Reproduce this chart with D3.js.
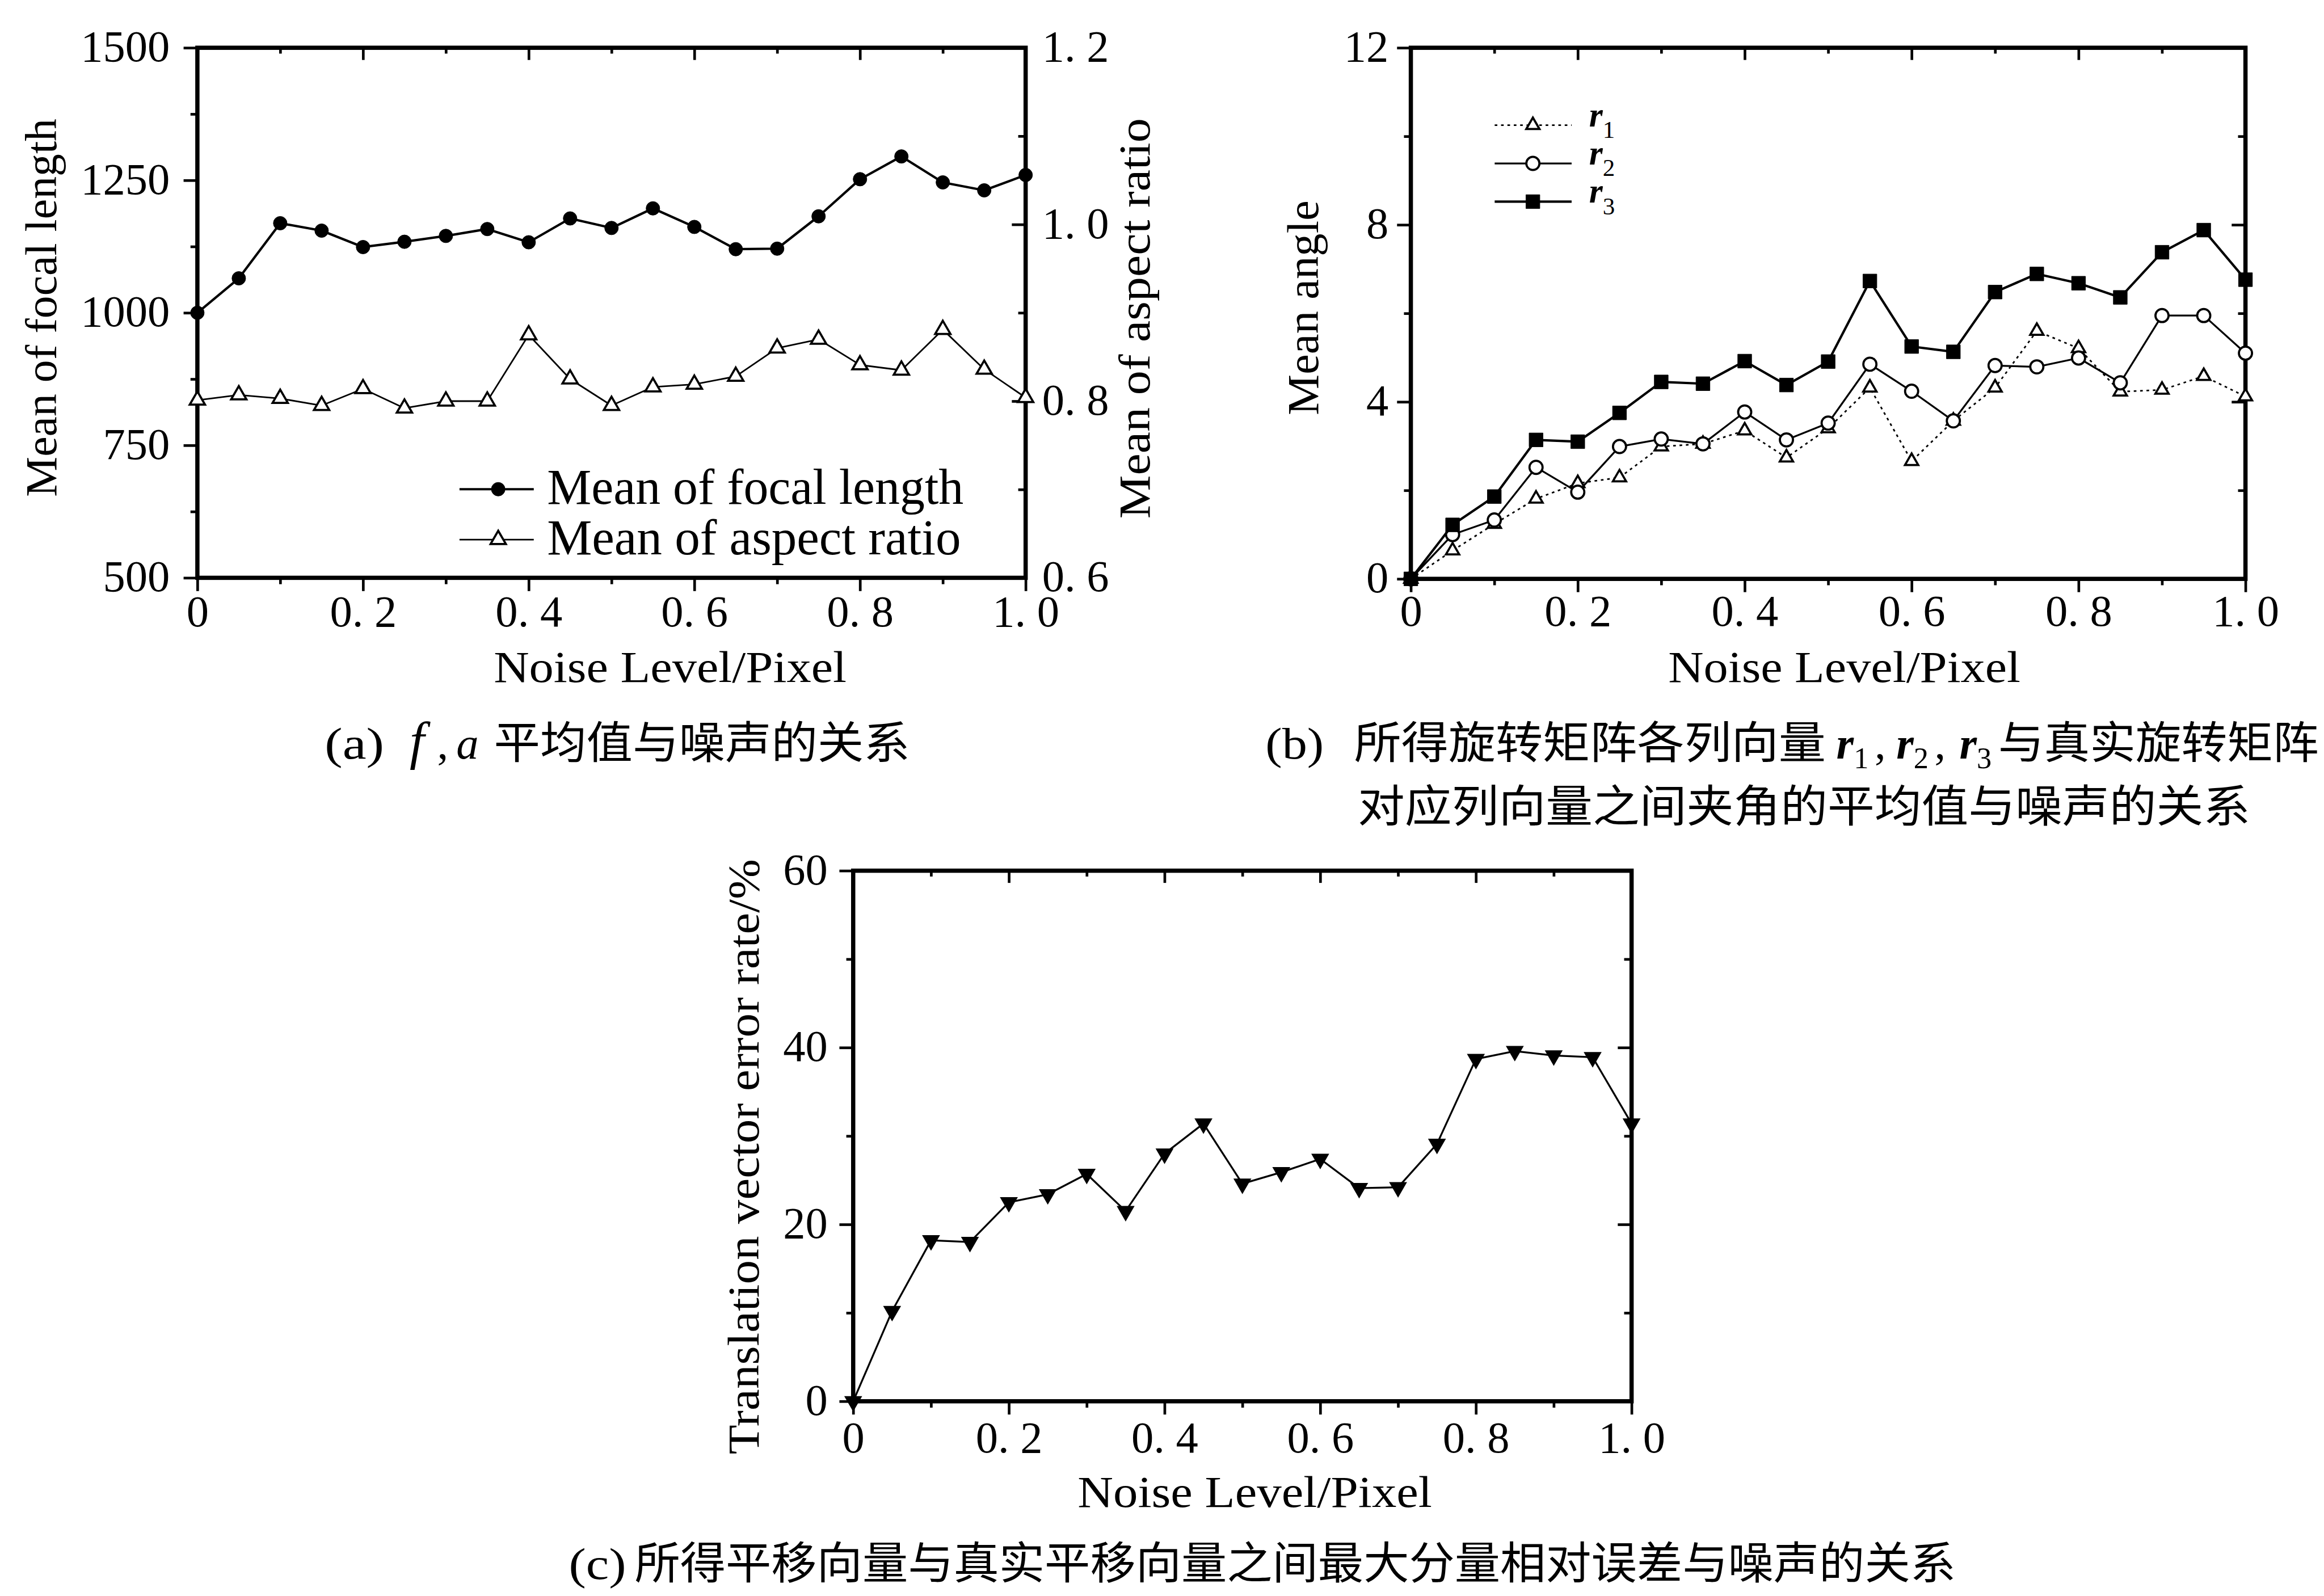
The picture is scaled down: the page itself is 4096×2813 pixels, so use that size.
<!DOCTYPE html>
<html>
<head>
<meta charset="utf-8">
<script src="https://cdn.jsdelivr.net/npm/d3@7"></script>
<style>
  body { margin: 0; background: #fff; }
  svg { display: block; }
</style>
</head>
<body>
<script>
// data
const noiseLevels = [0, 0.05, 0.1, 0.15, 0.2, 0.25, 0.3, 0.35, 0.4, 0.45, 0.5, 0.55, 0.6, 0.65, 0.7, 0.75, 0.8, 0.85, 0.9, 0.95, 1.0];
const focalLength = [1000, 1065, 1169, 1155, 1124, 1134, 1145, 1158, 1133, 1178, 1160, 1197, 1162, 1120, 1121, 1182, 1252, 1295, 1246, 1231, 1260];
const aspectRatio = [0.801, 0.807, 0.803, 0.795, 0.814, 0.792, 0.800, 0.800, 0.875, 0.825, 0.795, 0.816, 0.819, 0.828, 0.860, 0.870, 0.841, 0.835, 0.881, 0.836, 0.804];
const angleR1 = [0, 0.64, 1.24, 1.81, 2.16, 2.29, 2.99, 3.05, 3.35, 2.74, 3.40, 4.32, 2.66, 3.57, 4.32, 5.60, 5.21, 4.23, 4.27, 4.58, 4.12];
const angleR2 = [0, 1.00, 1.33, 2.52, 1.96, 2.99, 3.16, 3.05, 3.77, 3.14, 3.52, 4.85, 4.24, 3.57, 4.82, 4.79, 4.99, 4.43, 5.95, 5.95, 5.10];
const angleR3 = [0, 1.22, 1.86, 3.14, 3.10, 3.75, 4.45, 4.41, 4.92, 4.38, 4.91, 6.73, 5.25, 5.13, 6.48, 6.89, 6.68, 6.36, 7.38, 7.88, 6.76];
const translationErr = [0, 10.2, 18.2, 18.0, 22.5, 23.4, 25.7, 21.5, 28.0, 31.4, 24.6, 25.9, 27.4, 24.1, 24.2, 29.1, 38.7, 39.6, 39.1, 38.9, 31.4];

const xMajor = [0, 0.2, 0.4, 0.6, 0.8, 1.0];
const xMinor = [0.1, 0.3, 0.5, 0.7, 0.9];
const focalTicks = [500, 750, 1000, 1250, 1500];
const focalMinor = [625, 875, 1125, 1375];
const aspectTicks = [0.6, 0.8, 1.0, 1.2];
const aspectMinor = [0.7, 0.9, 1.1];
const angleTicks = [0, 4, 8, 12];
const angleMinor = [2, 6, 10];
const errTicks = [0, 20, 40, 60];
const errMinor = [10, 30, 50];

const legendA = ["Mean of focal length", "Mean of aspect ratio"];
const legendB = ["1", "2", "3"];

const serif = "'Liberation Serif','Times New Roman',serif";
const cjk = "'Noto Sans CJK SC','Noto Sans CJK JP',sans-serif";
const FS = 84;

const svg = d3.select("body").append("svg")
    .attr("width", 4096).attr("height", 2813)
    .attr("viewBox", "0 0 4380 3008");
svg.append("rect").attr("width", 4380).attr("height", 3008).attr("fill", "#fff");

const fmtDot = d => d === 0 ? "0" : d.toFixed(1).replace(".", ". ");

function styleAxis(g) {
  g.select(".domain").remove();
  g.attr("font-family", serif).attr("font-size", FS);
  g.selectAll(".tick line").attr("stroke", "#000").attr("stroke-width", 5);
  g.selectAll("text").attr("fill", "#000");
}

// frame + ticks of one panel, returns scales
function panel(p) {
  const x = d3.scaleLinear().domain([0, 1]).range([p.left, p.right]);
  const y = d3.scaleLinear().domain(p.yDomain).range([p.bottom, p.top]);
  const g = svg.append("g");

  g.append("rect")
    .attr("x", p.left).attr("y", p.top)
    .attr("width", p.right - p.left).attr("height", p.bottom - p.top)
    .attr("fill", "none").attr("stroke", "#000").attr("stroke-width", 8);

  // bottom
  g.append("g").attr("transform", `translate(0,${p.bottom})`)
    .call(d3.axisBottom(x).tickValues(xMajor).tickSize(25).tickFormat(fmtDot))
    .call(styleAxis)
    .call(a => a.selectAll("text").attr("y", p.xLabelY - p.bottom).attr("dy", null));
  g.append("g").attr("transform", `translate(0,${p.bottom})`)
    .call(d3.axisBottom(x).tickValues(xMinor).tickSize(12).tickFormat(""))
    .call(styleAxis);
  // top (inward)
  g.append("g").attr("transform", `translate(0,${p.top})`)
    .call(d3.axisTop(x).tickValues(xMajor).tickSize(-23).tickFormat(""))
    .call(styleAxis);
  g.append("g").attr("transform", `translate(0,${p.top})`)
    .call(d3.axisTop(x).tickValues(xMinor).tickSize(-11).tickFormat(""))
    .call(styleAxis);
  // left
  g.append("g").attr("transform", `translate(${p.left},0)`)
    .call(d3.axisLeft(y).tickValues(p.yMajor).tickSize(26).tickPadding(p.pad).tickFormat(d3.format("d")))
    .call(styleAxis)
    .call(a => a.selectAll("text").attr("dy", "0.3em"));
  g.append("g").attr("transform", `translate(${p.left},0)`)
    .call(d3.axisLeft(y).tickValues(p.yMinor).tickSize(13).tickFormat(""))
    .call(styleAxis);

  // right (inward)
  const yr = p.yRight ? d3.scaleLinear().domain(p.yRight.domain).range([p.bottom, p.top]) : y;
  const rMajor = p.yRight ? p.yRight.major : p.yMajor;
  const rMinor = p.yRight ? p.yRight.minor : p.yMinor;
  g.append("g").attr("transform", `translate(${p.right},0)`)
    .call(d3.axisRight(yr).tickValues(rMajor).tickSize(-26).tickPadding(31)
      .tickFormat(p.yRight ? fmtDot : ""))
    .call(styleAxis)
    .call(a => a.selectAll("text").attr("dy", "0.3em"));
  g.append("g").attr("transform", `translate(${p.right},0)`)
    .call(d3.axisRight(yr).tickValues(rMinor).tickSize(-14).tickFormat(""))
    .call(styleAxis);

  return { x, y, yr, g };
}

function series(g, x, y, values, o) {
  const line = d3.line().x((d, i) => x(noiseLevels[i])).y(d => y(d));
  g.append("path").datum(values).attr("d", line)
    .attr("fill", "none").attr("stroke", "#000").attr("stroke-width", o.width)
    .attr("stroke-dasharray", o.dash || null).attr("stroke-linejoin", "round");
  g.selectAll(null).data(values).join("path")
    .attr("transform", (d, i) => `translate(${x(noiseLevels[i])},${y(d)})` + (o.rot ? ` rotate(${o.rot})` : ""))
    .attr("d", d3.symbol().type(o.type).size(o.size)())
    .attr("fill", o.fill).attr("stroke", "#000").attr("stroke-width", o.sw);
}

function legendRow(g, x1, x2, xm, yy, o) {
  g.append("line").attr("x1", x1).attr("x2", x2).attr("y1", yy).attr("y2", yy)
    .attr("stroke", "#000").attr("stroke-width", o.width).attr("stroke-dasharray", o.dash || null);
  g.append("path").attr("transform", `translate(${xm},${yy})`)
    .attr("d", d3.symbol().type(o.type).size(o.size)())
    .attr("fill", o.fill).attr("stroke", "#000").attr("stroke-width", o.sw);
}

function text(x, y, str, o = {}) {
  const t = svg.append("text").attr("x", x).attr("y", y)
    .attr("font-family", o.font || serif).attr("font-size", o.size || FS)
    .attr("fill", "#000").text(str);
  if (o.anchor) t.attr("text-anchor", o.anchor);
  if (o.style) t.attr("font-style", o.style);
  if (o.weight) t.attr("font-weight", o.weight);
  if (o.len) t.attr("textLength", o.len).attr("lengthAdjust", "spacingAndGlyphs");
  if (o.rot) t.attr("transform", `rotate(${o.rot},${x},${y})`);
  return t;
}

// r with a subscript index, one text element
function rLabel(x, y, sub, size, subSize, drop) {
  const t = text(x, y, "", { size });
  t.append("tspan").attr("font-style", "italic").attr("font-weight", "bold").text("r");
  t.append("tspan").attr("font-size", subSize).attr("dy", drop).text(sub);
  return t;
}

const focalStyle = { width: 4.5, type: d3.symbolCircle, size: 520, fill: "#000", sw: 1 };
const aspectStyle = { width: 3, type: d3.symbolTriangle, size: 360, fill: "#fff", sw: 4 };
const r1Style = { width: 3, dash: "5,7", type: d3.symbolTriangle, size: 270, fill: "#fff", sw: 4 };
const r2Style = { width: 3.5, type: d3.symbolCircle, size: 480, fill: "#fff", sw: 4 };
const r3Style = { width: 4.5, type: d3.symbolSquare, size: 680, fill: "#000", sw: 1 };
const errStyle = { width: 3.5, type: d3.symbolTriangle, size: 400, fill: "#000", sw: 2, rot: 180 };

// ---------- (a)
const A = panel({ left: 372, right: 1933, top: 90, bottom: 1089, yDomain: [500, 1500],
  yMajor: focalTicks, yMinor: focalMinor, pad: 26, xLabelY: 1181,
  yRight: { domain: [0.6, 1.2], major: aspectTicks, minor: aspectMinor } });
series(A.g, A.x, A.yr, aspectRatio, aspectStyle);
series(A.g, A.x, A.y, focalLength, focalStyle);
legendRow(A.g, 866, 1006, 939, 922, focalStyle);
legendRow(A.g, 866, 1006, 939, 1017, aspectStyle);
text(1031, 950, legendA[0], { size: 94, len: 785 });
text(1031, 1045, legendA[1], { size: 94, len: 780 });
text(106, 580, "Mean of focal length", { anchor: "middle", rot: -90, len: 713 });
text(2167, 600, "Mean of aspect ratio", { anchor: "middle", rot: -90, len: 755 });
text(1263, 1285, "Noise Level/Pixel", { anchor: "middle", len: 665 });

// ---------- (b)
const B = panel({ left: 2659, right: 4232, top: 90, bottom: 1091, yDomain: [0, 12],
  yMajor: angleTicks, yMinor: angleMinor, pad: 16, xLabelY: 1179 });
series(B.g, B.x, B.y, angleR1, r1Style);
series(B.g, B.x, B.y, angleR2, r2Style);
series(B.g, B.x, B.y, angleR3, r3Style);
[r1Style, r2Style, r3Style].forEach((s, i) => {
  const yy = 236 + i * 72;
  legendRow(B.g, 2817, 2962, 2889, yy, s);
  rLabel(2995, yy + 2, legendB[i], 66, 46, 22);
});
text(2484, 580, "Mean angle", { anchor: "middle", rot: -90, len: 405 });
text(3476, 1285, "Noise Level/Pixel", { anchor: "middle", len: 664 });

// ---------- (c)
const C = panel({ left: 1608, right: 3075, top: 1641, bottom: 2641, yDomain: [0, 60],
  yMajor: errTicks, yMinor: errMinor, pad: 22, xLabelY: 2738 });
series(C.g, C.x, C.y, translationErr, errStyle);
text(1430, 2180, "Translation vector error rate/%", { anchor: "middle", rot: -90, len: 1122 });
text(2365, 2840, "Noise Level/Pixel", { anchor: "middle", len: 668 });

// ---------- captions
text(612, 1430, "(a)", { len: 112 });
text(772, 1430, "f", { style: "italic", size: 100 });
text(824, 1430, ",");
text(860, 1430, "a", { style: "italic" });
text(931, 1430, "平均值与噪声的关系", { font: cjk, len: 784 });

text(2385, 1430, "(b)", { len: 110 });
text(2552, 1430, "所得旋转矩阵各列向量", { font: cjk, len: 889 });
[[3461, "1", true], [3574, "2", true], [3693, "3", false]].forEach(([rx, sub, comma]) => {
  rLabel(rx, 1430, sub, FS, 56, 18);
  if (comma) text(rx + 72, 1430, ",");
});
text(3766, 1430, "与真实旋转矩阵", { font: cjk, len: 604 });
text(2559, 1549, "对应列向量之间夹角的平均值与噪声的关系", { font: cjk, len: 1682 });

text(1072, 2976, "(c)", { len: 108 });
text(1196, 2976, "所得平移向量与真实平移向量之间最大分量相对误差与噪声的关系", { font: cjk, len: 2490 });
</script>
</body>
</html>
